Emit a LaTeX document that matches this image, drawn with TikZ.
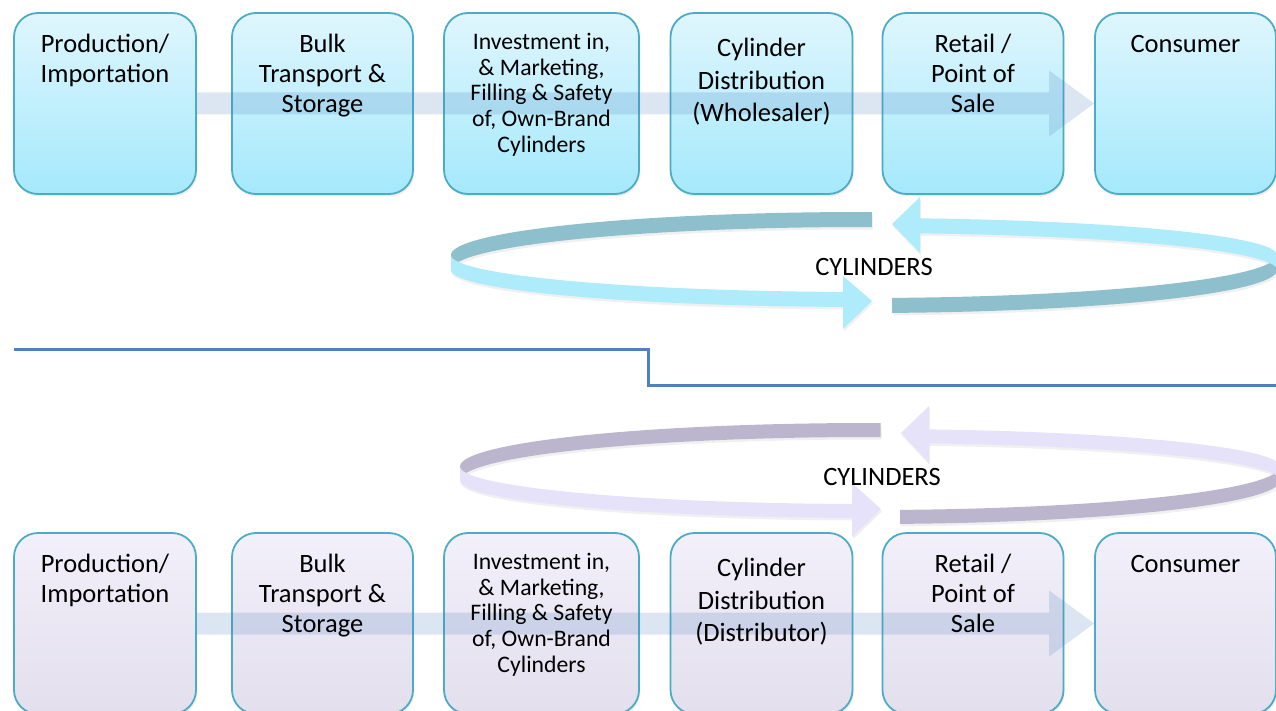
\documentclass[tikz,border=0pt]{standalone}
\usepackage{fontspec}
\setmainfont{Carlito}
\usetikzlibrary{positioning,calc,shadows}
\definecolor{boxline}{RGB}{75,172,198}
\definecolor{cyantop}{RGB}{223,246,253}
\definecolor{cyanbot}{RGB}{165,233,252}
\definecolor{lavtop}{RGB}{242,240,251}
\definecolor{lavbot}{RGB}{227,223,237}
\definecolor{flow}{RGB}{79,129,189}
\definecolor{sepblue}{RGB}{79,129,189}
\definecolor{ringdarkA}{RGB}{141,191,204}
\definecolor{ringlightA}{RGB}{174,235,251}
\definecolor{ringdarkB}{RGB}{187,182,205}
\definecolor{ringlightB}{RGB}{230,226,250}
\newcommand{\ringband}[8]{\fill[#1] plot[domain=#7:#8,samples=40] ({#2+#4*cos(\x)},{#3+#5*sin(\x)}) -- plot[domain=#8:#7,samples=40] ({#2+#4*cos(\x)},{#3+#5*sin(\x)+#6}) -- cycle;}

\begin{document}
\begin{tikzpicture}[x=1pt,y=-1pt,
  stagebox/.style={draw=boxline,line width=1.8pt,rounded corners=24pt,minimum height=181pt,inner sep=0pt,drop shadow={opacity=.15,shadow xshift=1pt,shadow yshift=-2.5pt}},
  topstage/.style={stagebox,top color=cyantop,bottom color=cyanbot},
  lowstage/.style={stagebox,top color=lavtop,bottom color=lavbot},
  stagetxt/.style={anchor=north,align=center,inner sep=0pt,font=\fontsize{26.5}{30}\selectfont},
  flowband/.style={fill=flow,opacity=.2},
  ringshade/.style={black,opacity=.06,shift={(1,2.5)}},
  ringtxt/.style={inner sep=0pt,font=\fontsize{26.5}{30}\selectfont}]
\useasboundingbox (0,0) rectangle (1276,711);
\clip (0,0) rectangle (1276,711);

\node[topstage,minimum width=182pt] (prodA) at (105,103.5) {};
\node[topstage,minimum width=181pt] (bulkA) at (322.5,103.5) {};
\node[topstage,minimum width=195pt] (fillA) at (541.5,103.5) {};
\node[topstage,minimum width=182pt] (distA) at (761.5,103.5) {};
\node[topstage,minimum width=181pt] (saleA) at (973,103.5) {};
\node[topstage,minimum width=181pt] (consA) at (1185.5,103.5) {};
\fill[flowband] ($(prodA.east)+(0,-11)$) -- ($(consA.west)+(-45,-11)$) -- ($(consA.west)+(-45,-33)$) -- (consA.west) -- ($(consA.west)+(-45,33)$) -- ($(consA.west)+(-45,11)$) -- ($(prodA.east)+(0,11)$) -- cycle;
\node[stagetxt] (prodAtxt) at ([yshift=-22pt]prodA.north) {Production/\\Importation};
\node[stagetxt] (bulkAtxt) at ([yshift=-22pt]bulkA.north) {Bulk\\Transport \&\\Storage};
\node[stagetxt,font=\fontsize{23.7}{25.6}\selectfont] (fillAtxt) at ([yshift=-21pt]fillA.north) {Investment in,\\\& Marketing,\\Filling \& Safety\\of, Own-Brand\\Cylinders};
\node[stagetxt,font=\fontsize{26.5}{32.5}\selectfont] (distAtxt) at ([yshift=-26pt]distA.north) {Cylinder\\Distribution\\(Wholesaler)};
\node[stagetxt] (saleAtxt) at ([yshift=-22pt]saleA.north) {Retail /\\Point of\\Sale};
\node[stagetxt] (consAtxt) at ([yshift=-23pt]consA.north) {Consumer};

% upper cylinder ring
\ringband{ringshade}{864}{255}{413}{43}{15}{-180}{-88.9}
\ringband{ringshade}{864}{255}{413}{43}{15}{0}{86.1}
\ringband{ringshade}{864}{255}{413}{37}{15}{-82.2}{0}
\ringband{ringshade}{864}{255}{413}{37}{15}{92.9}{180}
\fill[ringshade] (843,276) -- (872,301) -- (843,329) -- cycle;
\fill[ringshade] (920,197) -- (892,224) -- (920,253) -- cycle;
\ringband{ringdarkA}{864}{255}{413}{43}{15}{-180}{-88.9}
\ringband{ringdarkA}{864}{255}{413}{43}{15}{0}{86.1}
\ringband{ringlightA}{864}{255}{413}{37}{15}{-82.2}{0}
\ringband{ringlightA}{864}{255}{413}{37}{15}{92.9}{180}
\fill[ringlightA] (843,276) -- (872,301) -- (843,329) -- cycle;
\fill[ringlightA] (920,197) -- (892,224) -- (920,253) -- cycle;
\node[ringtxt] (cylA) at (874,266.5) {CYLINDERS};

\draw[sepblue,line width=3pt] (14,349) -- (648,349) -- (648,385) -- (1276,385);

% lower cylinder ring
\ringband{ringshade}{870}{466.5}{410}{43.5}{14}{-180}{-88.5}
\ringband{ringshade}{870}{466.5}{410}{43.5}{14}{0}{85.8}
\ringband{ringshade}{870}{466.5}{410}{37.5}{14}{-81.7}{0}
\ringband{ringshade}{870}{466.5}{410}{37.5}{14}{92.5}{180}
\fill[ringshade] (852,483) -- (881,509) -- (852,537) -- cycle;
\fill[ringshade] (929,406) -- (901,433) -- (929,463) -- cycle;
\ringband{ringdarkB}{870}{466.5}{410}{43.5}{14}{-180}{-88.5}
\ringband{ringdarkB}{870}{466.5}{410}{43.5}{14}{0}{85.8}
\ringband{ringlightB}{870}{466.5}{410}{37.5}{14}{-81.7}{0}
\ringband{ringlightB}{870}{466.5}{410}{37.5}{14}{92.5}{180}
\fill[ringlightB] (852,483) -- (881,509) -- (852,537) -- cycle;
\fill[ringlightB] (929,406) -- (901,433) -- (929,463) -- cycle;
\node[ringtxt] (cylB) at (882,476.5) {CYLINDERS};

\node[lowstage,minimum width=182pt] (prodB) at (105,623.5) {};
\node[lowstage,minimum width=181pt] (bulkB) at (322.5,623.5) {};
\node[lowstage,minimum width=195pt] (fillB) at (541.5,623.5) {};
\node[lowstage,minimum width=182pt] (distB) at (761.5,623.5) {};
\node[lowstage,minimum width=181pt] (saleB) at (973,623.5) {};
\node[lowstage,minimum width=181pt] (consB) at (1185.5,623.5) {};
\fill[flowband] ($(prodB.east)+(0,-11)$) -- ($(consB.west)+(-45,-11)$) -- ($(consB.west)+(-45,-33)$) -- (consB.west) -- ($(consB.west)+(-45,33)$) -- ($(consB.west)+(-45,11)$) -- ($(prodB.east)+(0,11)$) -- cycle;
\node[stagetxt] (prodBtxt) at ([yshift=-22pt]prodB.north) {Production/\\Importation};
\node[stagetxt] (bulkBtxt) at ([yshift=-22pt]bulkB.north) {Bulk\\Transport \&\\Storage};
\node[stagetxt,font=\fontsize{23.7}{25.6}\selectfont] (fillBtxt) at ([yshift=-21pt]fillB.north) {Investment in,\\\& Marketing,\\Filling \& Safety\\of, Own-Brand\\Cylinders};
\node[stagetxt,font=\fontsize{26.5}{32.5}\selectfont] (distBtxt) at ([yshift=-26pt]distB.north) {Cylinder\\Distribution\\(Distributor)};
\node[stagetxt] (saleBtxt) at ([yshift=-22pt]saleB.north) {Retail /\\Point of\\Sale};
\node[stagetxt] (consBtxt) at ([yshift=-23pt]consB.north) {Consumer};
\end{tikzpicture}
\end{document}
